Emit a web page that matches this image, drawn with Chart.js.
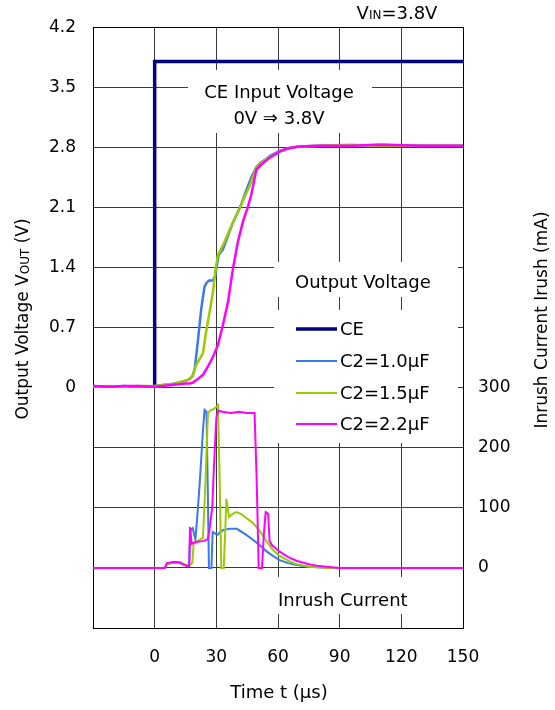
<!DOCTYPE html>
<html>
<head>
<meta charset="utf-8">
<script src="https://cdn.jsdelivr.net/npm/chart.js@4.4.1/dist/chart.umd.min.js"></script>
<style>
  html, body { margin: 0; padding: 0; background: #fff; }
  #wrap { width: 555px; height: 710px; }
</style>
</head>
<body>
<div id="wrap"><canvas id="inrushChart" width="555" height="710"></canvas></div>
<script>
// axis ticks
const timeTicks = [-30, 0, 30, 60, 90, 120, 150];
const voltTicks = [-2.8, -2.1, -1.4, -0.7, 0, 0.7, 1.4, 2.1, 2.8, 3.5, 4.2];
const currentTicks = [-100, 0, 100, 200, 300, 400, 500, 600, 700, 800, 900];

const seriesLabels = ['CE', 'C2=1.0μF', 'C2=1.5μF', 'C2=2.2μF'];
const seriesColors = ['#000080', '#3a78f2', '#99cc00', '#ff00ff'];

// CE input voltage (V)
const ceTime = [0, 0, 150];
const ceVolt = [0, 3.8, 3.8];

// output voltage (V)
const vTime10 = [-30, -22, -15, -8, 0, 4, 8, 12, 15, 17, 18.5, 19.5, 21, 22.7, 24.3, 25.2, 26.5, 28.4, 29.4, 30, 31.2, 33.2, 35.5, 38, 40, 42.2, 44.6, 47, 49.5, 51.5, 54, 56, 60.8, 65, 70, 80, 95, 110, 130, 150];
const vOut10  = [0.02, 0.01, 0.02, 0.01, 0.02, 0.03, 0.04, 0.06, 0.08, 0.1, 0.14, 0.22, 0.54, 0.93, 1.18, 1.22, 1.25, 1.25, 1.3, 1.39, 1.55, 1.61, 1.76, 1.92, 2.02, 2.14, 2.3, 2.45, 2.57, 2.62, 2.66, 2.7, 2.76, 2.79, 2.81, 2.82, 2.82, 2.83, 2.82, 2.82];

const vTime15 = [-30, -22, -15, -8, 0, 4, 8, 12, 15, 17, 18.5, 20.3, 22, 23.5, 24.8, 26.8, 28.4, 29.7, 30.8, 32, 34, 36.5, 39, 41.4, 44, 46.2, 48, 49.5, 52, 54.3, 57, 60.8, 65, 70.5, 80, 95, 110, 130, 150];
const vOut15  = [0.01, 0.02, 0.01, 0.02, 0.02, 0.03, 0.04, 0.06, 0.08, 0.1, 0.14, 0.27, 0.34, 0.4, 0.62, 0.89, 1.12, 1.39, 1.55, 1.6, 1.7, 1.84, 1.97, 2.09, 2.24, 2.35, 2.47, 2.57, 2.62, 2.66, 2.7, 2.75, 2.79, 2.81, 2.82, 2.83, 2.82, 2.82, 2.82];

const vTime22 = [-30, -22, -15, -8, 0, 4, 8, 12, 15, 17, 18.6, 21, 23.5, 26, 28.4, 30.8, 33.2, 35.7, 38.1, 40.5, 43, 45.4, 47, 49.5, 51.9, 54, 56, 60.8, 65, 70.5, 80, 95, 110, 130, 150];
const vOut22  = [0.02, 0.01, 0.02, 0.02, 0.01, 0.02, 0.03, 0.04, 0.05, 0.05, 0.06, 0.1, 0.15, 0.25, 0.36, 0.5, 0.73, 1.0, 1.39, 1.7, 1.94, 2.11, 2.25, 2.54, 2.6, 2.64, 2.68, 2.75, 2.79, 2.81, 2.82, 2.82, 2.83, 2.82, 2.82];

// inrush current (mA)
const iTime10 = [-30, -15, 0, 4.9, 6, 9, 12, 15, 16.8, 17.3, 18.5, 19.8, 20.5, 21.9, 23.5, 24.3, 25.2, 25.9, 26.4, 27.6, 28.2, 29.2, 30.5, 32, 33.2, 36.5, 40, 44.6, 47.8, 51, 54.3, 57.5, 60.8, 65, 69, 75, 85, 150];
const iRush10 = [0, 0, 0, 0, 6, 9, 10, 5, 4, 62, 66, 48, 75, 140, 230, 263, 260, 120, 0, 0, 60, 58, 55, 60, 63, 65, 65, 55, 47, 38, 28, 20, 13, 8, 5, 2, 0, 0];

const iTime15 = [-30, -15, 0, 4.9, 6, 9, 12, 15, 17, 18.3, 19, 21, 23.5, 24.8, 25.9, 27, 29, 30.8, 31.6, 32.4, 33.6, 34.3, 34.9, 35.5, 36.2, 38, 39.7, 42, 44.6, 47.8, 51, 54.3, 57.5, 60.8, 65, 69, 75, 85, 150];
const iRush15 = [0, 0, 0, 0, 6, 9, 10, 5, 4, 8, 42, 45, 50, 150, 257, 262, 265, 271, 150, 0, 0, 60, 115, 100, 85, 90, 93, 90, 83, 75, 62, 45, 30, 20, 12, 6, 2, 0, 0];

const iTime22 = [-30, -15, 0, 4.9, 6, 9, 12, 15.5, 16.8, 17.2, 18, 20, 24, 25.8, 26.6, 28, 29, 30, 31, 33, 37, 41, 45, 48.6, 49.6, 50.6, 52.2, 53.2, 54, 55.2, 55.9, 57, 60.8, 65, 69, 75, 80, 90, 150];
const iRush22 = [0, 0, 0, 0, 8, 10, 9, 3, 3, 68, 40, 43, 45, 48, 62, 100, 180, 250, 262, 260, 258, 260, 258, 258, 150, 0, 0, 60, 93, 90, 45, 38, 27, 18, 12, 6, 3, 0, 0];

const FONT = "'DejaVu Sans', sans-serif";
const gridColor = '#3a3a3a';

const pts = (xs, ys) => xs.map((x, i) => ({ x: x, y: ys[i] }));

function trace(label, color, xs, ys, axis, width, order) {
  return {
    label: label,
    data: pts(xs, ys),
    yAxisID: axis,
    borderColor: color,
    backgroundColor: color,
    borderWidth: width,
    pointRadius: 0,
    tension: 0,
    order: order
  };
}

// draws a run of text pieces [text, size, dy] centred at (0,0) of current transform
function drawRun(c, parts) {
  let total = 0;
  parts.forEach(p => { c.font = p[1] + 'px ' + FONT; total += c.measureText(p[0]).width; });
  let x = -total / 2;
  parts.forEach(p => {
    c.font = p[1] + 'px ' + FONT;
    c.fillText(p[0], x, p[2]);
    x += c.measureText(p[0]).width;
  });
}

const annotate = {
  id: 'annotate',
  beforeDatasetsDraw(chart) {
    const c = chart.ctx;
    const a = chart.chartArea;
    c.save();
    c.fillStyle = '#fff';
    c.fillRect(188, 70, 184, 63);   // CE input label
    c.fillRect(274, 262, 184, 35);  // Output Voltage heading
    c.fillRect(274, 310, 184, 133); // legend
    c.fillRect(268, 577, 150, 37);  // Inrush Current label
    c.strokeStyle = '#000';
    c.lineWidth = 1;
    c.strokeRect(Math.round(a.left) + 0.5, Math.round(a.top) + 0.5,
                 Math.round(a.right - a.left), Math.round(a.bottom - a.top));
    c.restore();
  },
  afterDraw(chart) {
    const c = chart.ctx;
    c.save();
    c.fillStyle = '#000';
    c.textBaseline = 'alphabetic';
    c.textAlign = 'left';

    // VIN label
    c.save();
    c.translate(397, 19);
    drawRun(c, [['V', 18, 0], ['IN', 12, 0], ['=3.8V', 18, 0]]);
    c.restore();

    c.textAlign = 'center';
    c.font = '18px ' + FONT;
    c.fillText('CE Input Voltage', 279, 98);
    c.fillText('0V \u21D2 3.8V', 279, 124);
    c.fillText('Time t (\u03BCs)', 279, 698);
    c.textAlign = 'left';
    c.fillText('Output Voltage', 295, 288);
    c.fillText('Inrush Current', 278, 606);

    // legend
    const rows = [329, 361, 393, 424];
    chart.data.datasets.slice(0, 4).forEach((ds, i) => {
      c.strokeStyle = ds.borderColor;
      c.lineWidth = i === 0 ? 3.5 : 2;
      c.beginPath();
      c.moveTo(296, rows[i]);
      c.lineTo(337, rows[i]);
      c.stroke();
      c.fillStyle = '#000';
      c.font = '18px ' + FONT;
      c.textBaseline = 'middle';
      c.fillText(seriesLabels[i], 340, rows[i] + 1);
    });
    c.textBaseline = 'alphabetic';

    // left axis title
    c.save();
    c.translate(22, 319);
    c.rotate(-Math.PI / 2);
    drawRun(c, [['Output Voltage V', 17, 6], ['OUT', 12, 7], [' (V)', 17, 6]]);
    c.restore();

    // right axis title
    c.save();
    c.translate(541, 320);
    c.rotate(-Math.PI / 2);
    drawRun(c, [['Inrush Current Irush (mA)', 17, 6]]);
    c.restore();

    c.restore();
  }
};

const tickFont = { family: FONT, size: 17 };

const ctx = document.getElementById('inrushChart').getContext('2d');
const chart = new Chart(ctx, {
  type: 'line',
  data: {
    datasets: [
      trace(seriesLabels[0], seriesColors[0], ceTime, ceVolt, 'yV', 3.5, 10),
      trace(seriesLabels[1], seriesColors[1], vTime10, vOut10, 'yV', 2.5, 3),
      trace(seriesLabels[2], seriesColors[2], vTime15, vOut15, 'yV', 2.5, 2),
      trace(seriesLabels[3], seriesColors[3], vTime22, vOut22, 'yV', 2.5, 1),
      trace(seriesLabels[1], seriesColors[1], iTime10, iRush10, 'yI', 2, 3),
      trace(seriesLabels[2], seriesColors[2], iTime15, iRush15, 'yI', 2, 2),
      trace(seriesLabels[3], seriesColors[3], iTime22, iRush22, 'yI', 2, 1)
    ]
  },
  options: {
    responsive: false,
    animation: false,
    layout: { padding: { top: 27, left: 0, right: 0, bottom: 0 } },
    scales: {
      x: {
        type: 'linear',
        min: -30,
        max: 150,
        afterBuildTicks: s => { s.ticks = timeTicks.map(v => ({ value: v })); },
        afterFit: s => { s.height = 82; },
        grid: { color: gridColor, drawTicks: false },
        border: { display: false },
        ticks: {
          padding: 19, color: '#000', font: tickFont, maxRotation: 0,
          callback: v => (v < 0 ? '' : String(v))
        }
      },
      yV: {
        type: 'linear',
        position: 'left',
        min: -2.8,
        max: 4.2,
        afterBuildTicks: s => { s.ticks = voltTicks.map(v => ({ value: v })); },
        afterFit: s => { s.width = 93; },
        grid: { color: gridColor, drawTicks: false },
        border: { display: false },
        ticks: {
          padding: 17, color: '#000', font: tickFont,
          callback: v => (v < -0.001 ? '' : (Math.abs(v) < 0.001 ? '0' : v.toFixed(1)))
        }
      },
      yI: {
        type: 'linear',
        position: 'right',
        min: -100,
        max: 900,
        afterBuildTicks: s => { s.ticks = currentTicks.map(v => ({ value: v })); },
        afterFit: s => { s.width = 92; },
        grid: { drawOnChartArea: false, drawTicks: false },
        border: { display: false },
        ticks: {
          padding: 15, color: '#000', font: tickFont,
          callback: v => (v >= 0 && v <= 300 ? String(v) : '')
        }
      }
    },
    plugins: {
      legend: { display: false },
      tooltip: { enabled: false }
    }
  },
  plugins: [annotate]
});
</script>
</body>
</html>
